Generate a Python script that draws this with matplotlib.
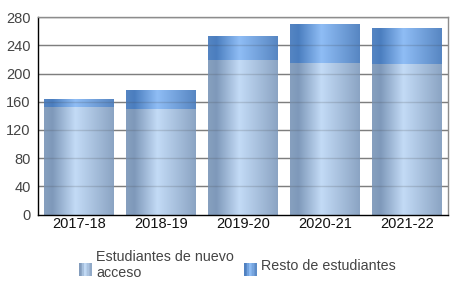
import numpy as np
import matplotlib.pyplot as plt
from matplotlib.colors import LinearSegmentedColormap
from matplotlib.legend_handler import HandlerBase
from matplotlib.patches import Rectangle

plt.rcParams['font.family'] = ['Liberation Sans', 'DejaVu Sans']

# Data
courses = ["2017-18", "2018-19", "2019-20", "2020-21", "2021-22"]
nuevo_acceso = [153, 150, 220, 215, 214]
resto = [11, 26, 34, 54, 51]
labels = ["Estudiantes de nuevo\nacceso", "Resto de estudiantes"]
yticks = [0, 40, 80, 120, 160, 200, 240, 280]

# horizontal gradients: dark edges, light band slightly left of centre
cmap_new = LinearSegmentedColormap.from_list(
    "new", [(0.0, "#87a0bf"), (0.12, "#7f99ba"), (0.45, "#c3dbf6"), (1.0, "#8ba4c3")])
cmap_rest = LinearSegmentedColormap.from_list(
    "rest", [(0.0, "#5585c3"), (0.12, "#4b7ebf"), (0.45, "#8fbdf5"), (1.0, "#5786c2")])

grad = np.linspace(0, 1, 256).reshape(1, -1)


def fill_gradient(ax, patches, cmap):
    """Replace the flat bar fill with a horizontal gradient image."""
    for p in patches:
        x0, y0 = p.get_x(), p.get_y()
        w, h = p.get_width(), p.get_height()
        p.set_facecolor("none")
        p.set_edgecolor("none")
        ax.imshow(grad, cmap=cmap, extent=(x0, x0 + w, y0, y0 + h),
                  aspect="auto", zorder=2, interpolation="bilinear")


class GradientHandler(HandlerBase):
    def __init__(self, cmap):
        super().__init__()
        self.cmap = cmap

    def create_artists(self, legend, orig_handle, xdescent, ydescent,
                       width, height, fontsize, trans):
        n = 8
        side = 9.0
        x_start = -xdescent + (width - side) / 2
        artists = []
        for k in range(n):
            r = Rectangle((x_start + k * side / n, -ydescent - 3), side / n + 0.3, side,
                          facecolor=self.cmap((k + 0.5) / n), edgecolor="none",
                          transform=trans)
            artists.append(r)
        return artists


fig = plt.figure(figsize=(4.56, 3.05), dpi=100)
ax = fig.add_axes([37.7 / 456, 1 - 214.5 / 305, 410.3 / 456, 197.2 / 305])

x = np.arange(len(courses))
b1 = ax.bar(x, nuevo_acceso, width=0.85)
b2 = ax.bar(x, resto, width=0.85, bottom=nuevo_acceso)
fill_gradient(ax, b1, cmap_new)
fill_gradient(ax, b2, cmap_rest)

ax.set_xlim(-0.5, len(courses) - 0.5)
ax.set_ylim(0, 280)
ax.set_yticks(yticks)
ax.set_xticks(x)
ax.set_xticklabels(courses)

# grid behind bars, faint copy on top
for t in yticks[1:]:
    ax.axhline(t, color="#8c8c8c", lw=1.0, zorder=1)
    ax.axhline(t, color="#404040", lw=1.0, alpha=0.18, zorder=3)

ax.spines["left"].set_color("black")
ax.spines["bottom"].set_color("black")
ax.spines["top"].set_color("#8c8c8c")
ax.spines["right"].set_color("#8c8c8c")
for s in ax.spines.values():
    s.set_linewidth(1.0)
    s.set_zorder(4)

ax.tick_params(axis="y", length=0, pad=5, labelsize=10.5, labelcolor="#444444")
ax.tick_params(axis="x", length=0, pad=2, labelsize=10.5, labelcolor="#111111")

h1 = Rectangle((0, 0), 1, 1)
h2 = Rectangle((0, 0), 1, 1)
fig.legend([h1, h2], labels, loc="center", bbox_to_anchor=(0.521, 1 - 265 / 305),
           ncol=2, frameon=False, fontsize=10.3, labelcolor="#444444",
           handler_map={h1: GradientHandler(cmap_new), h2: GradientHandler(cmap_rest)},
           handlelength=0.9, handleheight=0.9, handletextpad=0.3, columnspacing=0.7,
           borderpad=0, borderaxespad=0)

fig.savefig("out.png", dpi=100)
